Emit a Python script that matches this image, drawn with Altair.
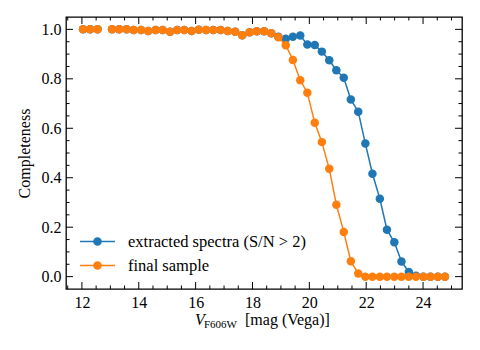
import altair as alt
import pandas as pd

# ---- data ----
mag = [12.04, 12.29, 12.55, 12.80, 13.06, 13.31, 13.57, 13.82, 14.08, 14.33,
       14.59, 14.84, 15.10, 15.35, 15.60, 15.86, 16.11, 16.37, 16.62, 16.88,
       17.13, 17.39, 17.64, 17.90, 18.15, 18.41, 18.66, 18.91, 19.17, 19.42,
       19.68, 19.93, 20.19, 20.44, 20.70, 20.95, 21.21, 21.46, 21.72, 21.97,
       22.22, 22.48, 22.73, 22.99, 23.24, 23.50, 23.75, 24.01, 24.26, 24.52,
       24.77]

extracted = [1.0, 1.0, 1.0, None, 1.0, 1.0, 1.0, 0.997, 0.997, 0.993,
             0.997, 0.997, 0.990, 0.997, 0.997, 0.993, 0.998, 0.997, 0.997, 0.997,
             0.993, 0.990, 0.976, 0.988, 0.992, 0.992, 0.984, 0.970, 0.962, 0.970,
             0.975, 0.939, 0.937, 0.910, 0.875, 0.835, 0.804, 0.716, 0.667, 0.538,
             0.416, 0.315, 0.190, 0.139, 0.061, 0.019, 0.004, 0.0, 0.0, 0.0,
             0.0]

final = [1.0, 1.0, 1.0, None, 1.0, 1.0, 1.0, 0.997, 0.997, 0.993,
         0.997, 0.997, 0.990, 0.997, 0.997, 0.993, 0.998, 0.997, 0.997, 0.997,
         0.993, 0.990, 0.976, 0.988, 0.992, 0.992, 0.984, 0.968, 0.936, 0.876,
         0.794, 0.744, 0.622, 0.544, 0.436, 0.291, 0.181, 0.062, 0.013, 0.0,
         0.0, 0.0, 0.0, 0.0, 0.0, 0.0, 0.0, 0.0, 0.0, 0.0,
         0.0]

series_names = ["extracted spectra (S/N > 2)", "final sample"]
series_colors = ["#1f77b4", "#ff7f0e"]

x_major = [12, 14, 16, 18, 20, 22, 24]
x_minor = [11.5, 12.5, 13, 13.5, 14.5, 15, 15.5, 16.5, 17, 17.5, 18.5, 19,
           19.5, 20.5, 21, 21.5, 22.5, 23, 23.5, 24.5, 25]
y_major = [0.0, 0.2, 0.4, 0.6, 0.8, 1.0]
y_minor = [0.05, 0.1, 0.15, 0.25, 0.3, 0.35, 0.45, 0.5, 0.55, 0.65, 0.7,
           0.75, 0.85, 0.9, 0.95]

x_title_parts = ["V", "F606W", "[mag (Vega)]"]
y_title = "Completeness"

# ---- layout ----
W, H = 396, 272
XDOM = [11.44, 25.37]
YDOM = [-0.05, 1.05]
FONT = "Times New Roman"

rows = []
for name, vals in zip(series_names, [extracted, final]):
    for i, (m, v) in enumerate(zip(mag, vals)):
        if v is None:
            continue
        rows.append(dict(series=name, mag=m, comp=v, seg=0 if i < 3 else 1))
df = pd.DataFrame(rows)

xs = alt.Scale(domain=XDOM, nice=False, zero=False)
ys = alt.Scale(domain=YDOM, nice=False, zero=False)

xaxis = alt.Axis(values=x_major, title=None, format="d", labelFont=FONT)
yaxis = alt.Axis(values=y_major, format=".1f", title=y_title, labelFont=FONT)

layers = []
for name, color in zip(series_names, series_colors):
    d = df[df.series == name]
    base = alt.Chart(d).encode(
        x=alt.X("mag:Q", scale=xs, axis=xaxis),
        y=alt.Y("comp:Q", scale=ys, axis=yaxis),
    )
    layers.append(base.mark_line(color=color, strokeWidth=1.5).encode(detail="seg:N"))
    layers.append(base.mark_circle(color=color, size=72, opacity=1))


def xticks(vals, length, top):
    d = pd.DataFrame({"t": vals})
    y, y2 = (0, length) if top else (H, H - length)
    return alt.Chart(d).mark_rule(color="black", strokeWidth=1).encode(
        x=alt.X("t:Q", scale=xs, axis=xaxis), y=alt.value(y), y2=alt.value(y2))


def yticks(vals, length, right):
    d = pd.DataFrame({"t": vals})
    x, x2 = (W, W - length) if right else (0, length)
    return alt.Chart(d).mark_rule(color="black", strokeWidth=1).encode(
        y=alt.Y("t:Q", scale=ys, axis=yaxis), x=alt.value(x), x2=alt.value(x2))


for top in (False, True):
    layers.append(xticks(x_major, 7, top))
    layers.append(xticks(x_minor, 3.5, top))
for right in (False, True):
    layers.append(yticks(y_major, 7, right))
    layers.append(yticks(y_minor, 3.5, right))

# legend (drawn in the lower-left of the plot, like the reference)
leg_y = [224.5, 248.5]
for name, color, ly in zip(series_names, series_colors, leg_y):
    ld = pd.DataFrame({"series": [name]})
    lb = alt.Chart(ld)
    layers.append(lb.mark_rule(color=color, strokeWidth=1.5).encode(
        x=alt.value(14), x2=alt.value(49), y=alt.value(ly)))
    layers.append(lb.mark_circle(color=color, size=72, opacity=1).encode(
        x=alt.value(31.5), y=alt.value(ly)))
    layers.append(lb.mark_text(font=FONT, fontSize=16.5, align="left",
                               baseline="middle", color="black").encode(
        x=alt.value(62), y=alt.value(ly), text="series:N"))

# x-axis title with italic V and subscript
td = pd.DataFrame({"t": x_title_parts})
layers.append(alt.Chart(td[td.t == "V"]).mark_text(
    font=FONT, fontSize=16, fontStyle="italic", align="left", baseline="alphabetic",
    color="black").encode(x=alt.value(129), y=alt.value(308), text="t:N"))
layers.append(alt.Chart(td[td.t == "F606W"]).mark_text(
    font=FONT, fontSize=11, align="left", baseline="alphabetic",
    color="black").encode(x=alt.value(138), y=alt.value(311), text="t:N"))
layers.append(alt.Chart(td[td.t == "[mag (Vega)]"]).mark_text(
    font=FONT, fontSize=16, align="left", baseline="alphabetic",
    color="black").encode(x=alt.value(179), y=alt.value(308), text="t:N"))

chart = alt.layer(*layers).properties(
    width=W, height=H,
    autosize=alt.AutoSizeParams(type="none"),
    padding={"left": 58, "top": 9, "right": 10, "bottom": 52},
    background="white",
).configure_view(
    stroke="black", strokeWidth=1.3
).configure_axis(
    ticks=False, domain=False, grid=False,
    labelFont=FONT, labelFontSize=16, labelColor="black", labelPadding=5,
    titleFont=FONT, titleFontSize=16, titleFontWeight="normal",
    titleColor="black", titlePadding=9,
).configure_text(font=FONT)

chart.save("out.html", embed_options={"renderer": "svg", "actions": False})
